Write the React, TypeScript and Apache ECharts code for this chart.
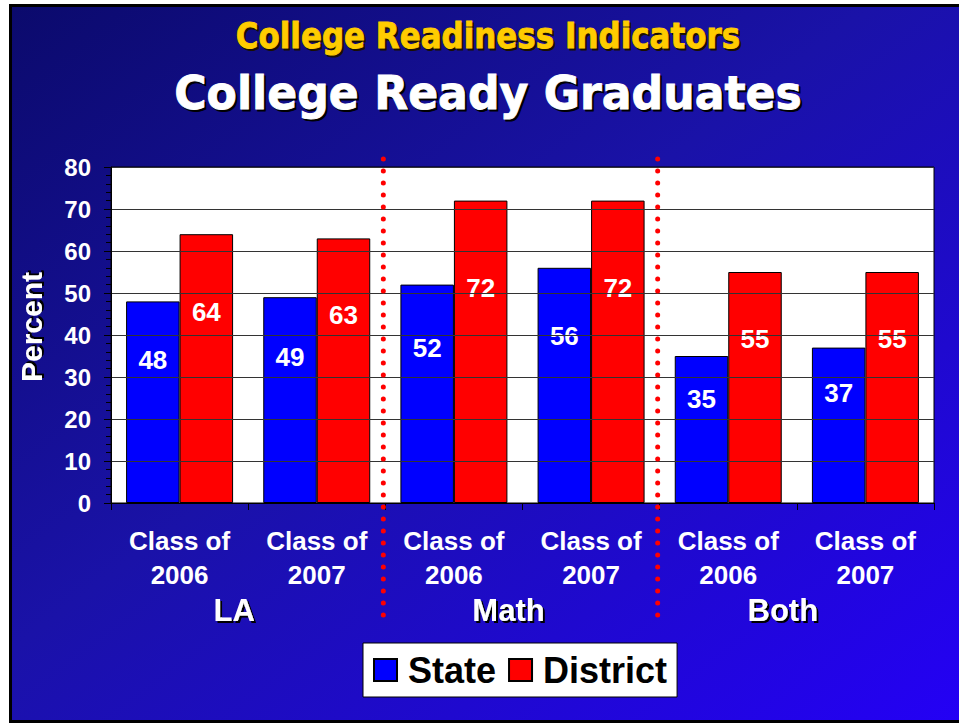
import React, { useEffect, useRef } from "react";
import * as echarts from "echarts";

const categories = [
  "Class of\n2006",
  "Class of\n2007",
  "Class of\n2006",
  "Class of\n2007",
  "Class of\n2006",
  "Class of\n2007",
];
const groups = ["LA", "Math", "Both"];
const stateValues = [48, 49, 52, 56, 35, 37];
const districtValues = [64, 63, 72, 72, 55, 55];
const seriesNames = ["State", "District"];
const yMin = 0;
const yMax = 80;
const yInterval = 10;
const supTitle = "College Readiness Indicators";
const mainTitle = "College Ready Graduates";

const SANS = "'Liberation Sans', Arial, Helvetica, sans-serif";
const TITLE_FONT = "'DejaVu Sans', sans-serif";

export default function App() {
  const ref = useRef<HTMLDivElement>(null);

  useEffect(() => {
    if (!ref.current) return;
    const chart = echarts.init(ref.current, null, { renderer: "svg" });

    const labelStyle = {
      show: true,
      position: ["50%", "29%"],
      align: "center",
      verticalAlign: "middle",
      color: "#fff",
      fontSize: 26,
      fontWeight: "bold",
      fontFamily: SANS,
    };

    const option: any = {
      animation: false,
      grid: {
        left: 111,
        right: 25,
        top: 167,
        bottom: 220,
        show: true,
        backgroundColor: "#ffffff",
        borderColor: "#000",
        borderWidth: 1,
        z: 1,
      },
      legend: {
        data: seriesNames,
        left: 363,
        top: 643,
        orient: "horizontal",
        icon: "rect",
        itemWidth: 23,
        itemHeight: 22,
        itemGap: 12,
        backgroundColor: "#fff",
        borderColor: "#000",
        borderWidth: 1,
        padding: [7, 10, 7, 10],
        textStyle: {
          color: "#000",
          fontSize: 36,
          fontWeight: "bold",
          fontFamily: SANS,
          lineHeight: 40,
          padding: [0, 0, 0, 6],
        },
      },
      xAxis: [
        {
          type: "category",
          data: categories,
          gridIndex: 0,
          position: "bottom",
          axisLine: { show: true, lineStyle: { color: "#000", width: 1 } },
          axisTick: { show: true, length: 7, lineStyle: { color: "#000" } },
          axisLabel: {
            color: "#fff",
            fontSize: 26,
            fontWeight: "bold",
            fontFamily: SANS,
            lineHeight: 34,
            margin: 21,
            interval: 0,
          },
          splitLine: { show: false },
          z: 5,
        },
        {
          type: "category",
          data: groups,
          gridIndex: 0,
          position: "bottom",
          axisLine: { show: false },
          axisTick: { show: false },
          axisLabel: {
            color: "#fff",
            fontSize: 31,
            fontWeight: "bold",
            fontFamily: SANS,
            lineHeight: 34,
            margin: 90,
            interval: 0,
            padding: [0, 28, 0, 0],
            textShadowColor: "#000",
            textShadowOffsetX: 2,
            textShadowOffsetY: 2,
            textShadowBlur: 1,
          },
          splitLine: { show: false },
        },
      ],
      yAxis: {
        type: "value",
        min: yMin,
        max: yMax,
        interval: yInterval,
        name: "Percent",
        nameLocation: "middle",
        nameRotate: 90,
        nameGap: 65,
        nameTextStyle: {
          color: "#fff",
          fontSize: 30,
          fontWeight: "bold",
          fontFamily: SANS,
          padding: [0, 0, 0, 16],
          textShadowColor: "#000",
          textShadowOffsetX: 2,
          textShadowOffsetY: 2,
          textShadowBlur: 1,
        },
        axisLine: { show: true, lineStyle: { color: "#000", width: 1 } },
        axisTick: { show: true, length: 7, lineStyle: { color: "#000" } },
        minorTick: { show: true, splitNumber: 5, length: 5, lineStyle: { color: "#000" } },
        axisLabel: {
          color: "#fff",
          fontSize: 24,
          fontWeight: "bold",
          fontFamily: SANS,
          margin: 20,
        },
        splitLine: { show: true, lineStyle: { color: "#333", width: 1 } },
        z: 5,
      },
      series: [
        {
          name: seriesNames[0],
          type: "bar",
          data: stateValues,
          barGap: "0%",
          barCategoryGap: "22%",
          itemStyle: { color: "#0000ff", borderColor: "#000", borderWidth: 1 },
          label: labelStyle,
          z: 3,
        },
        {
          name: seriesNames[1],
          type: "bar",
          data: districtValues,
          barGap: "0%",
          barCategoryGap: "22%",
          itemStyle: { color: "#ff0000", borderColor: "#000", borderWidth: 1 },
          label: labelStyle,
          z: 3,
        },
      ],
    };

    chart.setOption(option);

    const centers = categories.map((_, i) =>
      chart.convertToPixel({ xAxisIndex: 0 }, i) as unknown as number
    );
    const sep1 = (centers[1] + centers[2]) / 2 - 2;
    const sep2 = (centers[3] + centers[4]) / 2 - 2;

    const dotted = (x: number, id: string) => ({
      type: "line",
      id,
      z: 50,
      shape: { x1: x, y1: 159, x2: x, y2: 617 },
      style: {
        stroke: "#ff0000",
        lineWidth: 5,
        lineDash: [0.1, 11.9],
        lineCap: "round",
      },
    });

    const titleText = (
      id: string,
      text: string,
      x: number,
      y: number,
      size: number,
      scaleX: number,
      fill: string,
      z: number
    ) => ({
      type: "text",
      id,
      x,
      y,
      scaleX,
      z,
      style: {
        text,
        fill,
        stroke: fill,
        lineWidth: 0.9,
        fontSize: size,
        fontWeight: "bold",
        fontFamily: TITLE_FONT,
        align: "center",
        verticalAlign: "middle",
      },
    });

    chart.setOption({
      graphic: [
        {
          type: "rect",
          id: "bg",
          z: -100,
          silent: true,
          shape: { x: 10.5, y: 5.5, width: 960, height: 716 },
          style: {
            fill: new echarts.graphic.LinearGradient(0, 0, 1, 1, [
              { offset: 0, color: "#0b0a6c" },
              { offset: 0.45, color: "#1a12a8" },
              { offset: 1, color: "#2400f6" },
            ]),
            stroke: "#000",
            lineWidth: 3,
          },
        },
        titleText("t1s", supTitle, 490, 38, 36, 0.86, "#1a1000", 59),
        titleText("t1", supTitle, 488, 36, 36, 0.86, "#ffcc00", 60),
        titleText("t2s", mainTitle, 490, 95, 47, 0.94, "#000000", 59),
        titleText("t2", mainTitle, 488, 93, 47, 0.94, "#ffffff", 60),
        dotted(sep1, "d1"),
        dotted(sep2, "d2"),
      ],
    });

    return () => chart.dispose();
  }, []);

  return (
    <div
      ref={ref}
      style={{
        position: "fixed",
        left: 0,
        top: 0,
        width: 959,
        height: 723,
        background: "#fff",
      }}
    />
  );
}
